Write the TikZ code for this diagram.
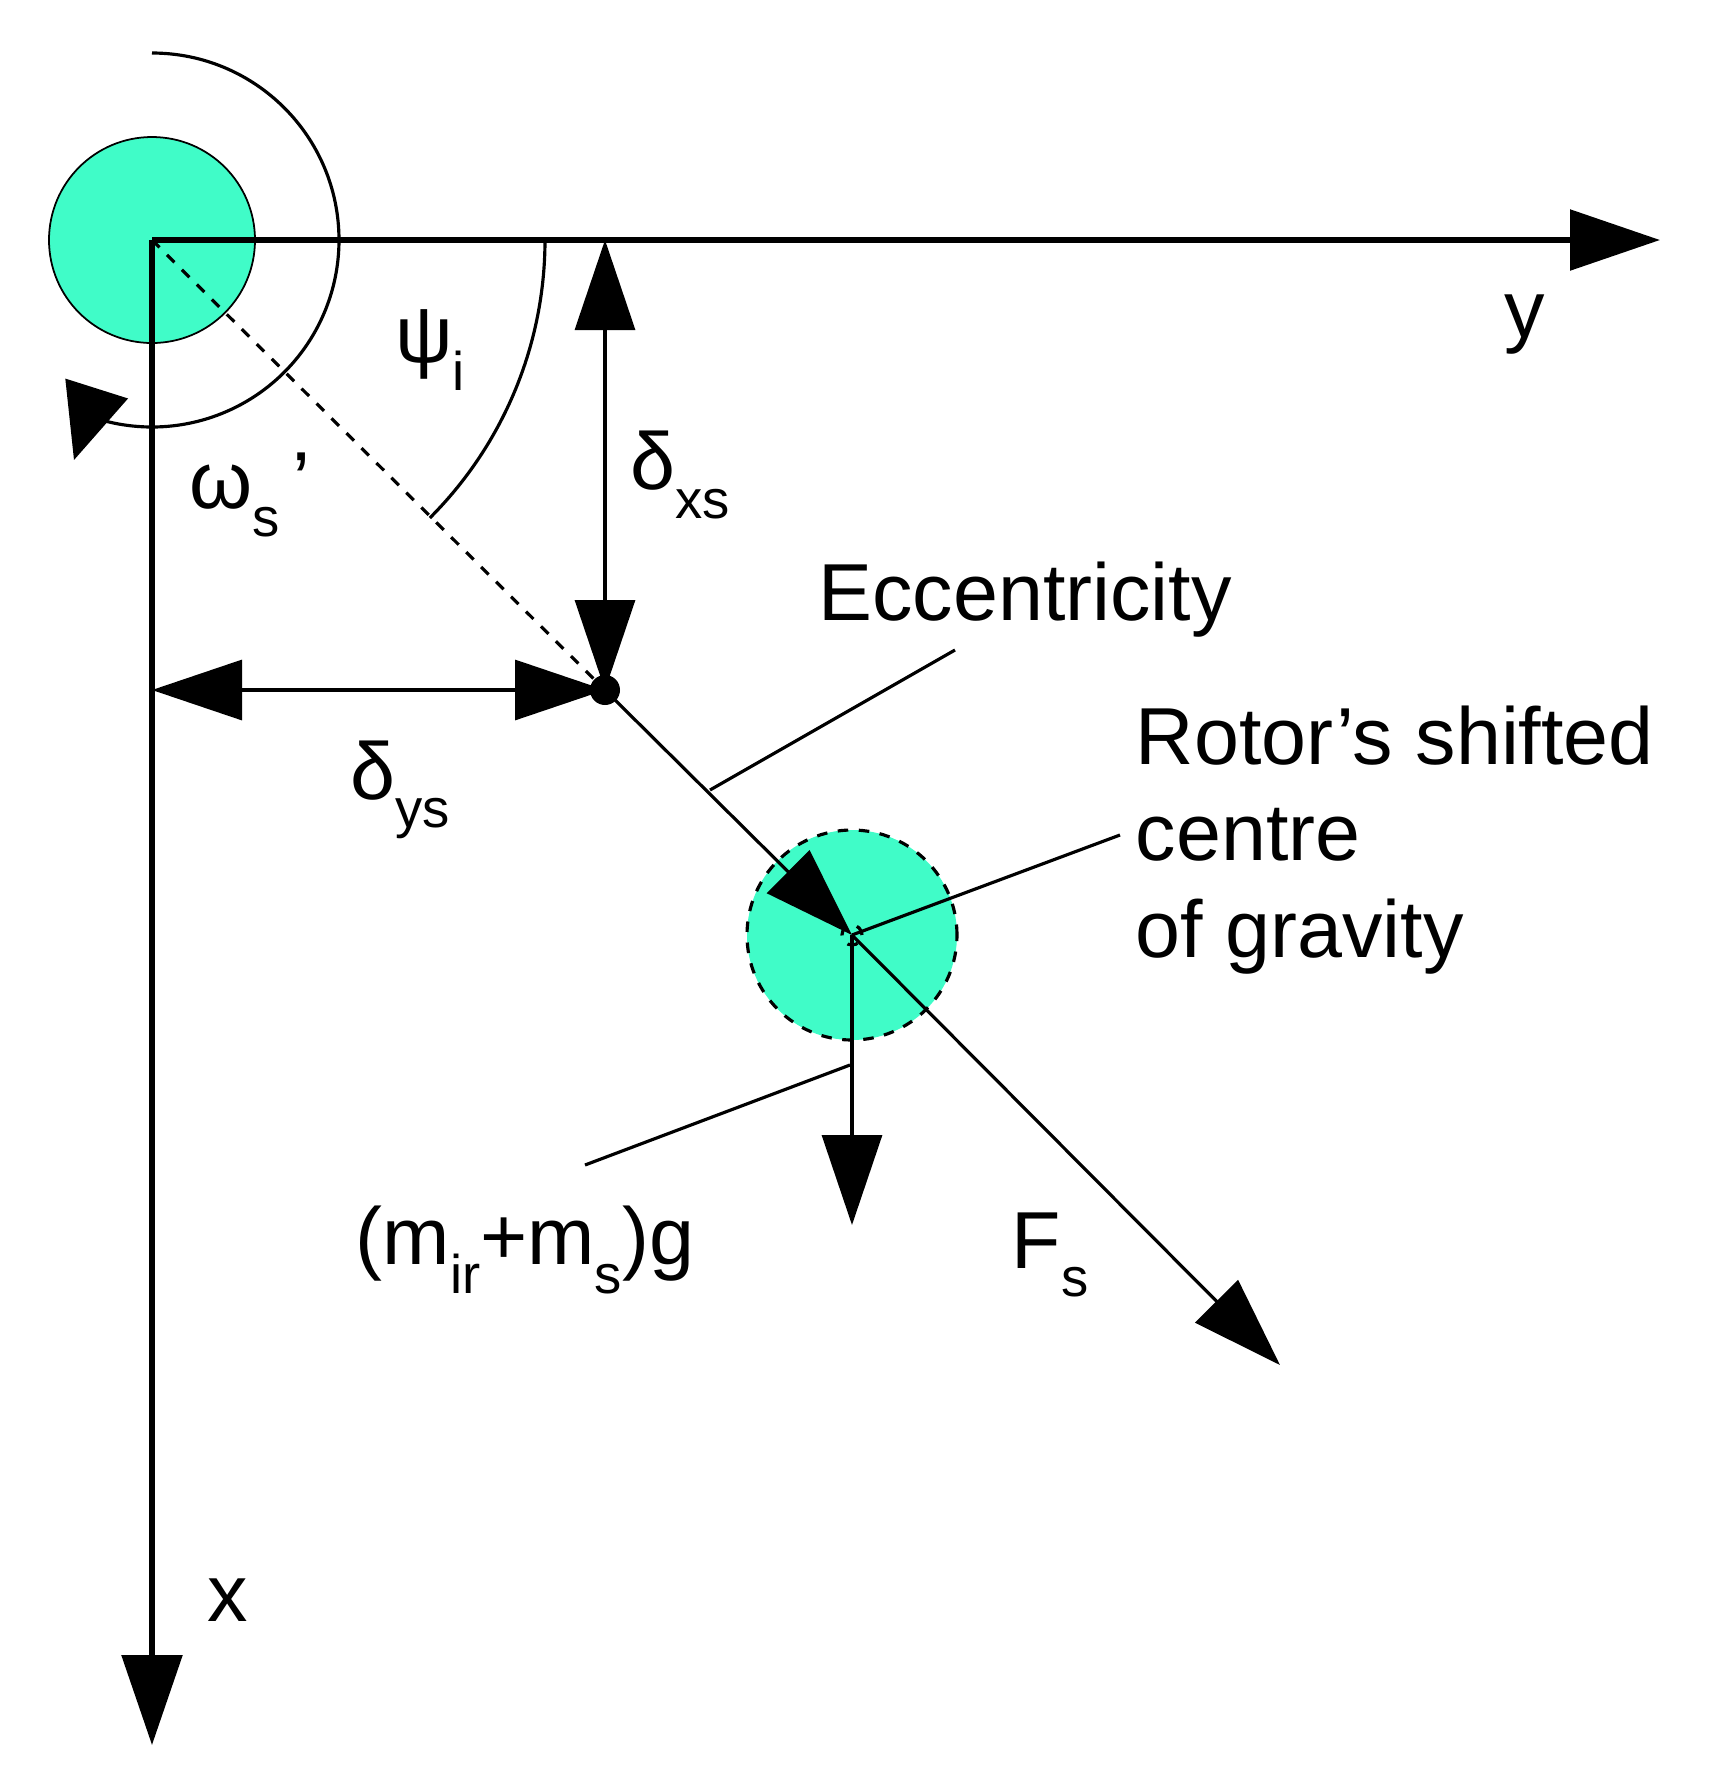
\documentclass[tikz,border=0pt]{standalone}
\usepackage{fontspec}
\setmainfont{Liberation Sans}
\usetikzlibrary{positioning, arrows.meta, calc}
\definecolor{rotor}{RGB}{64,252,200}
\begin{document}
\begin{tikzpicture}[x=1cm,y=-1cm]
		\tikzset{
			>={Triangle[length=0.9cm,width=0.6cm]},
			thin line/.style={line width=0.9pt},
			axis/.style={line width=1.6pt, ->},
			lbl/.style={font=\fontsize{23}{27.5}\selectfont, inner sep=0pt},
		}
		\newcommand{\lowidx}[1]{\raisebox{-0.35em}{\fontsize{15.5}{18}\selectfont #1}}
		\useasboundingbox (0,0) rectangle (17.28,17.71);
		
		% Nodes and points
		\coordinate (O) at (1.52,2.40);
		\coordinate (P) at (6.05,6.90);
		\coordinate (C) at (8.52,9.35);
		\coordinate (yend) at (16.60,2.40);
		\coordinate (xend) at (1.52,17.45);
		\coordinate (spin) at (0.74,4.60);
		
		% Stator and rotor
		\node[circle, fill=rotor, draw, line width=0.5pt, minimum size=2.06cm, inner sep=0pt] (stator) at (O) {};
		\node[circle, fill=rotor, draw, dashed, thin line, minimum size=2.10cm, inner sep=0pt] (rotor) at (C) {};
		\node[circle, draw, dashed, thin line, minimum size=0.2cm, inner sep=0pt] (cg) at (C) {};
		\fill (P) circle (0.15);
		
		% Rotation arrow
		\draw[thin line, -{Triangle[length=0.75cm,width=0.65cm]}] ($(O)+(0,-1.87)$)
			arc[start angle=-90, end angle=110, radius=1.87] -- (spin);
		
		% Axes
		\draw[axis] (O) -- (yend);
		\draw[axis] (O) -- (xend);
		
		% Angle
		\draw[thin line, dashed] (O) -- (P);
		\draw[thin line] ($(O)+(3.93,0)$) arc[start angle=0, end angle=45, radius=3.93];
		
		% Displacements
		\draw[thin line, <->] (P |- O) -- (P);
		\draw[thin line, <->] (O |- P) -- (P);
		
		% Forces
		\draw[thin line, ->] (P) -- (C);
		\draw[thin line, ->] (C) -- (12.80,13.65);
		\draw[thin line, ->] (C) -- (8.52,12.25);
		
		% Leaders
		\draw[thin line] (7.10,7.90) -- (9.55,6.50);
		\draw[thin line] (C) -- (11.20,8.35);
		\draw[thin line] (5.85,11.65) -- (8.50,10.65);
		
		% Labels
		\node[lbl] at (15.25,3.25) {y};
		\node[lbl] at (2.28,16.00) {x};
		\node[lbl] at (4.30,3.50) {ψ\lowidx{i}};
		\node[lbl] at (6.80,4.75) {δ\lowidx{xs}};
		\node[lbl] at (4.00,7.90) {δ\lowidx{ys}};
		\node[lbl] at (2.50,4.95) {ω\lowidx{s}\,{\char"0027}};
		\node[lbl] at (10.25,6.00) {Eccentricity};
		\node[lbl, align=left, anchor=north west] at (11.35,7.05) {Rotor{\char"0027}s shifted\\centre\\of gravity};
		\node[lbl] at (5.25,12.50) {(m\lowidx{ir}+m\lowidx{s})g};
		\node[lbl] at (10.50,12.55) {F\lowidx{s}};
	\end{tikzpicture}
\end{document}
